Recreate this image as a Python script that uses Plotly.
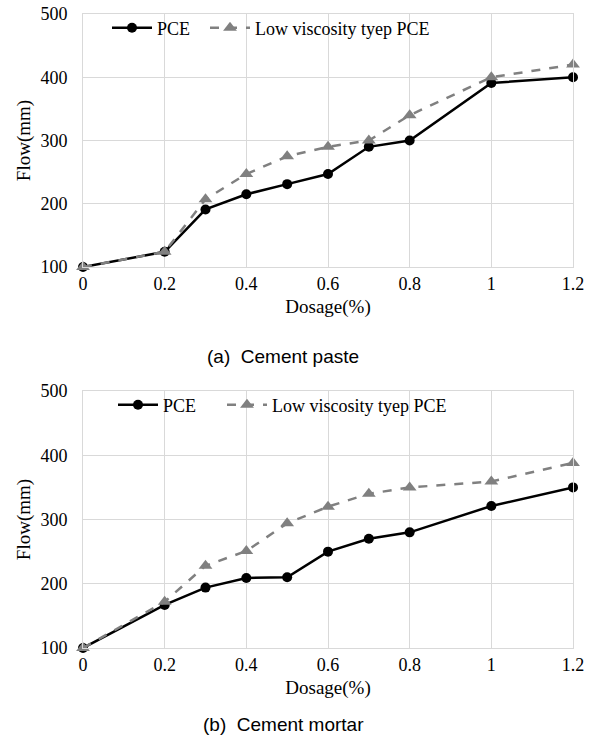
import plotly.graph_objects as go

dosage = [0, 0.2, 0.3, 0.4, 0.5, 0.6, 0.7, 0.8, 1.0, 1.2]
paste_pce = [100, 124, 191, 215, 231, 247, 290, 300, 391, 400]
paste_low = [100, 124, 207, 247, 275, 290, 300, 340, 400, 420]
mortar_pce = [100, 167, 194, 209, 210, 250, 270, 280, 321, 350]
mortar_low = [100, 172, 228, 251, 294, 320, 340, 350, 359, 388]
x_ticks = [0, 0.2, 0.4, 0.6, 0.8, 1, 1.2]
x_tick_labels = ["0", "0.2", "0.4", "0.6", "0.8", "1", "1.2"]
y_ticks = [100, 200, 300, 400, 500]
names = ["PCE", "Low viscosity tyep PCE"]
captions = ["(a)  Cement paste", "(b)  Cement mortar"]

SERIF = "Liberation Serif, DejaVu Serif, serif"
SANS = "Liberation Sans, Arial, sans-serif"
W, H = 594, 749

fig = go.Figure()

xdom = [83 / W, 573 / W]
ydoms = [[1 - 267 / H, 1 - 14 / H], [1 - 648 / H, 1 - 391 / H]]
datasets = [(paste_pce, paste_low), (mortar_pce, mortar_low)]
# legend ids: [chart][series]
legend_ids = [["legend", "legend3"], ["legend2", "legend4"]]

for i, (pce, low) in enumerate(datasets):
    xa = "x" if i == 0 else "x2"
    ya = "y" if i == 0 else "y2"
    fig.add_trace(go.Scatter(
        x=dosage, y=pce, name=names[0], xaxis=xa, yaxis=ya, legend=legend_ids[i][0],
        mode="lines+markers", cliponaxis=False,
        line=dict(color="#000000", width=2.5),
        marker=dict(symbol="circle", size=10, color="#000000"),
    ))
    fig.add_trace(go.Scatter(
        x=dosage, y=low, name=names[1], xaxis=xa, yaxis=ya, legend=legend_ids[i][1],
        mode="lines+markers", cliponaxis=False,
        line=dict(color="#808080", width=2.5, dash="dash"),
        marker=dict(symbol="triangle-up", size=12, color="#808080"),
    ))

axis_common_x = dict(
    range=[0, 1.2], tickvals=x_ticks, ticktext=x_tick_labels,
    showgrid=True, gridcolor="#d9d9d9", gridwidth=1,
    showline=True, linecolor="#d9d9d9", linewidth=1, mirror=True,
    zeroline=False, ticks="", automargin=False,
    tickfont=dict(family=SERIF, size=18, color="#000"),
    title=dict(text="Dosage(%)", font=dict(family=SERIF, size=19, color="#000"), standoff=7),
)
axis_common_y = dict(
    range=[100, 500], tickvals=y_ticks,
    showgrid=True, gridcolor="#d9d9d9", gridwidth=1,
    showline=True, linecolor="#d9d9d9", linewidth=1, mirror=True,
    zeroline=False, ticks="", ticklabelstandoff=11, automargin=False,
    tickfont=dict(family=SERIF, size=18, color="#000"),
    title=dict(text="Flow(mm)", font=dict(family=SERIF, size=19, color="#000"), standoff=4),
)

legend_common = dict(
    orientation="h", bgcolor="rgba(0,0,0,0)", borderwidth=0,
    font=dict(family=SERIF, size=18, color="#000"),
    itemwidth=40, xanchor="left", yanchor="middle",
)

fig.update_layout(
    width=W, height=H,
    margin=dict(l=0, r=0, t=0, b=0, autoexpand=False),
    paper_bgcolor="white", plot_bgcolor="white",
    xaxis=dict(domain=xdom, anchor="y", **axis_common_x),
    yaxis=dict(domain=ydoms[0], anchor="x", **axis_common_y),
    xaxis2=dict(domain=xdom, anchor="y2", **axis_common_x),
    yaxis2=dict(domain=ydoms[1], anchor="x2", **axis_common_y),
    legend=dict(x=107 / W, y=1 - 28 / H, **legend_common),
    legend3=dict(x=205 / W, y=1 - 28 / H, **legend_common),
    legend2=dict(x=113 / W, y=1 - 405 / H, **legend_common),
    legend4=dict(x=222 / W, y=1 - 405 / H, **legend_common),
    showlegend=True,
    annotations=[
        dict(text=captions[0], x=283 / W, y=1 - 357 / H, xref="paper", yref="paper",
             showarrow=False, font=dict(family=SANS, size=19, color="#000")),
        dict(text=captions[1], x=283 / W, y=1 - 737 / H, xref="paper", yref="paper",
             showarrow=False, font=dict(family=SANS, size=19, color="#000")),
    ],
)

fig.write_html("out.html")
